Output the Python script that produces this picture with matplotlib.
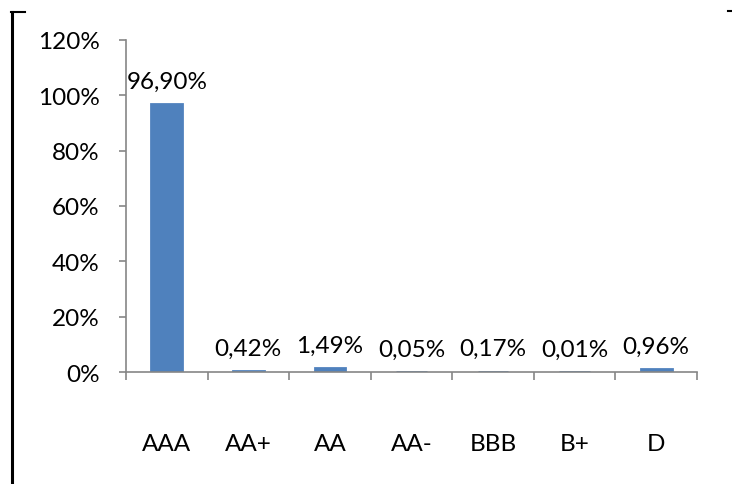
import matplotlib
matplotlib.use("Agg")
import matplotlib.pyplot as plt
from matplotlib.lines import Line2D
from matplotlib.ticker import FuncFormatter

categories = ["AAA", "AA+", "AA", "AA-", "BBB", "B+", "D"]
values = [96.90, 0.42, 1.49, 0.05, 0.17, 0.01, 0.96]
labels = ["96,90%", "0,42%", "1,49%", "0,05%", "0,17%", "0,01%", "0,96%"]
yticks = [0, 20, 40, 60, 80, 100, 120]

plt.rcParams['font.family'] = ['Lato', 'DejaVu Sans']
W, H = 732, 485
FS = 17.5
fig = plt.figure(figsize=(W/100, H/100), dpi=100)
ax = fig.add_axes([126/W, 1-373/H, (697-126)/W, (373-41)/H])

x = list(range(len(categories)))
ax.bar(x, values, width=0.375, color="#4F81BD", edgecolor="#4F81BD", linewidth=2.0)
for xi, v, lab in zip(x, values, labels):
    ax.text(xi, v + 4.5, lab, ha="center", va="bottom", fontsize=FS, color="black")

ax.set_xlim(-0.5, len(categories) - 0.5)
ax.set_ylim(0, 120)
ax.set_yticks(yticks)
ax.yaxis.set_major_formatter(FuncFormatter(lambda v, p: f"{int(v)}%"))
ax.set_xticks([i - 0.5 for i in range(len(categories) + 1)], minor=False)
ax.set_xticklabels([])
ax.set_xticks(x, minor=True)
ax.set_xticklabels(categories, minor=True)
ax.tick_params(axis="x", which="major", length=6, width=1.2, color="#868686", direction="out")
ax.tick_params(axis="x", which="minor", length=0, pad=44, labelsize=FS)
ax.tick_params(axis="y", length=5, width=1.2, color="#868686", labelsize=FS, pad=14)
for s in ["top", "right"]:
    ax.spines[s].set_visible(False)
for s in ["left", "bottom"]:
    ax.spines[s].set_color("#868686")
    ax.spines[s].set_linewidth(1.2)

# partial outer frame
fig.add_artist(Line2D([12/W, 12/W], [0, 1-13/H], color="black", lw=2.2, transform=fig.transFigure))
fig.add_artist(Line2D([11/W, 25/W], [1-13/H, 1-13/H], color="black", lw=1.5, transform=fig.transFigure))
fig.add_artist(Line2D([728/W, 732/W], [1-12/H, 1-12/H], color="black", lw=1.5, transform=fig.transFigure))

fig.savefig("out.png", dpi=100)
